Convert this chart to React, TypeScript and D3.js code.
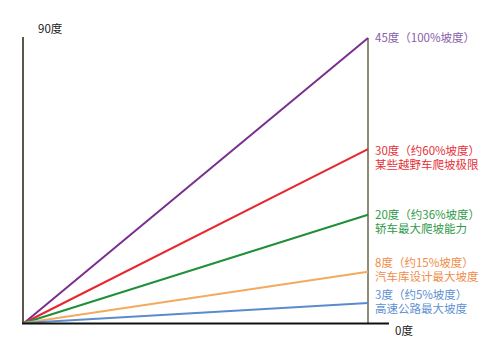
import React from "react";
import * as d3 from "d3";

const series = ["p45", "p30", "p20", "p8", "p3"];
const slopes = [100, 61, 38, 18, 7];
const lineColors = ["#7a2e8e", "#e8262e", "#1f8f3a", "#f2ab5e", "#5a8ccc"];
const textColors = ["#8560a8", "#e63036", "#2f9a48", "#f08c48", "#5d90d2"];
const labelLine1 = ["45度（100%坡度）", "30度（约60%坡度）", "20度（约36%坡度）", "8度（约15%坡度）", "3度（约5%坡度）"];
const labelLine2 = ["", "某些越野车爬坡极限", "轿车最大爬坡能力", "汽车库设计最大坡度", "高速公路最大坡度"];
const labelY1 = [37, 150, 214, 262, 294];
const topLabel = "90度";
const bottomLabel = "0度";

export default function App() {
  const W = 499, H = 357;
  const x = d3.scaleLinear().domain([0, 1]).range([24, 368]);
  const y = d3.scaleLinear().domain([0, 100]).range([323, 38]);
  const line = d3.line<[number, number]>().x(d => x(d[0])).y(d => y(d[1]));
  const font = "'Noto Sans CJK SC', 'Noto Sans', sans-serif";
  return (
    <svg width={W} height={H} style={{ position: "absolute", left: 0, top: 0, background: "#fff" }}>
      <line x1={23} x2={23} y1={37} y2={324} stroke="#5c574a" strokeWidth={2} />
      <line x1={368} x2={368} y1={38} y2={323} stroke="#6b6447" strokeWidth={1.5} />
      {series.map((s, i) => (
        <path key={s} d={line([[0, 0], [1, slopes[i]]]) || ""} stroke={lineColors[i]} strokeWidth={2} fill="none" />
      ))}
      <line x1={22} x2={389} y1={323.5} y2={323.5} stroke="#111" strokeWidth={2} />
      <text x={38} y={28} fontFamily={font} fontSize={11.5} fill="#222" dominantBaseline="central">{topLabel}</text>
      <text x={395} y={330} fontFamily={font} fontSize={11.5} fill="#222" dominantBaseline="central">{bottomLabel}</text>
      {series.map((s, i) => (
        <g key={s + "t"} fontFamily={font} fontSize={11.5} fill={textColors[i]}>
          <text x={375} y={labelY1[i]} dominantBaseline="central">{labelLine1[i]}</text>
          {labelLine2[i] && <text x={375} y={labelY1[i] + 14} dominantBaseline="central">{labelLine2[i]}</text>}
        </g>
      ))}
    </svg>
  );
}
